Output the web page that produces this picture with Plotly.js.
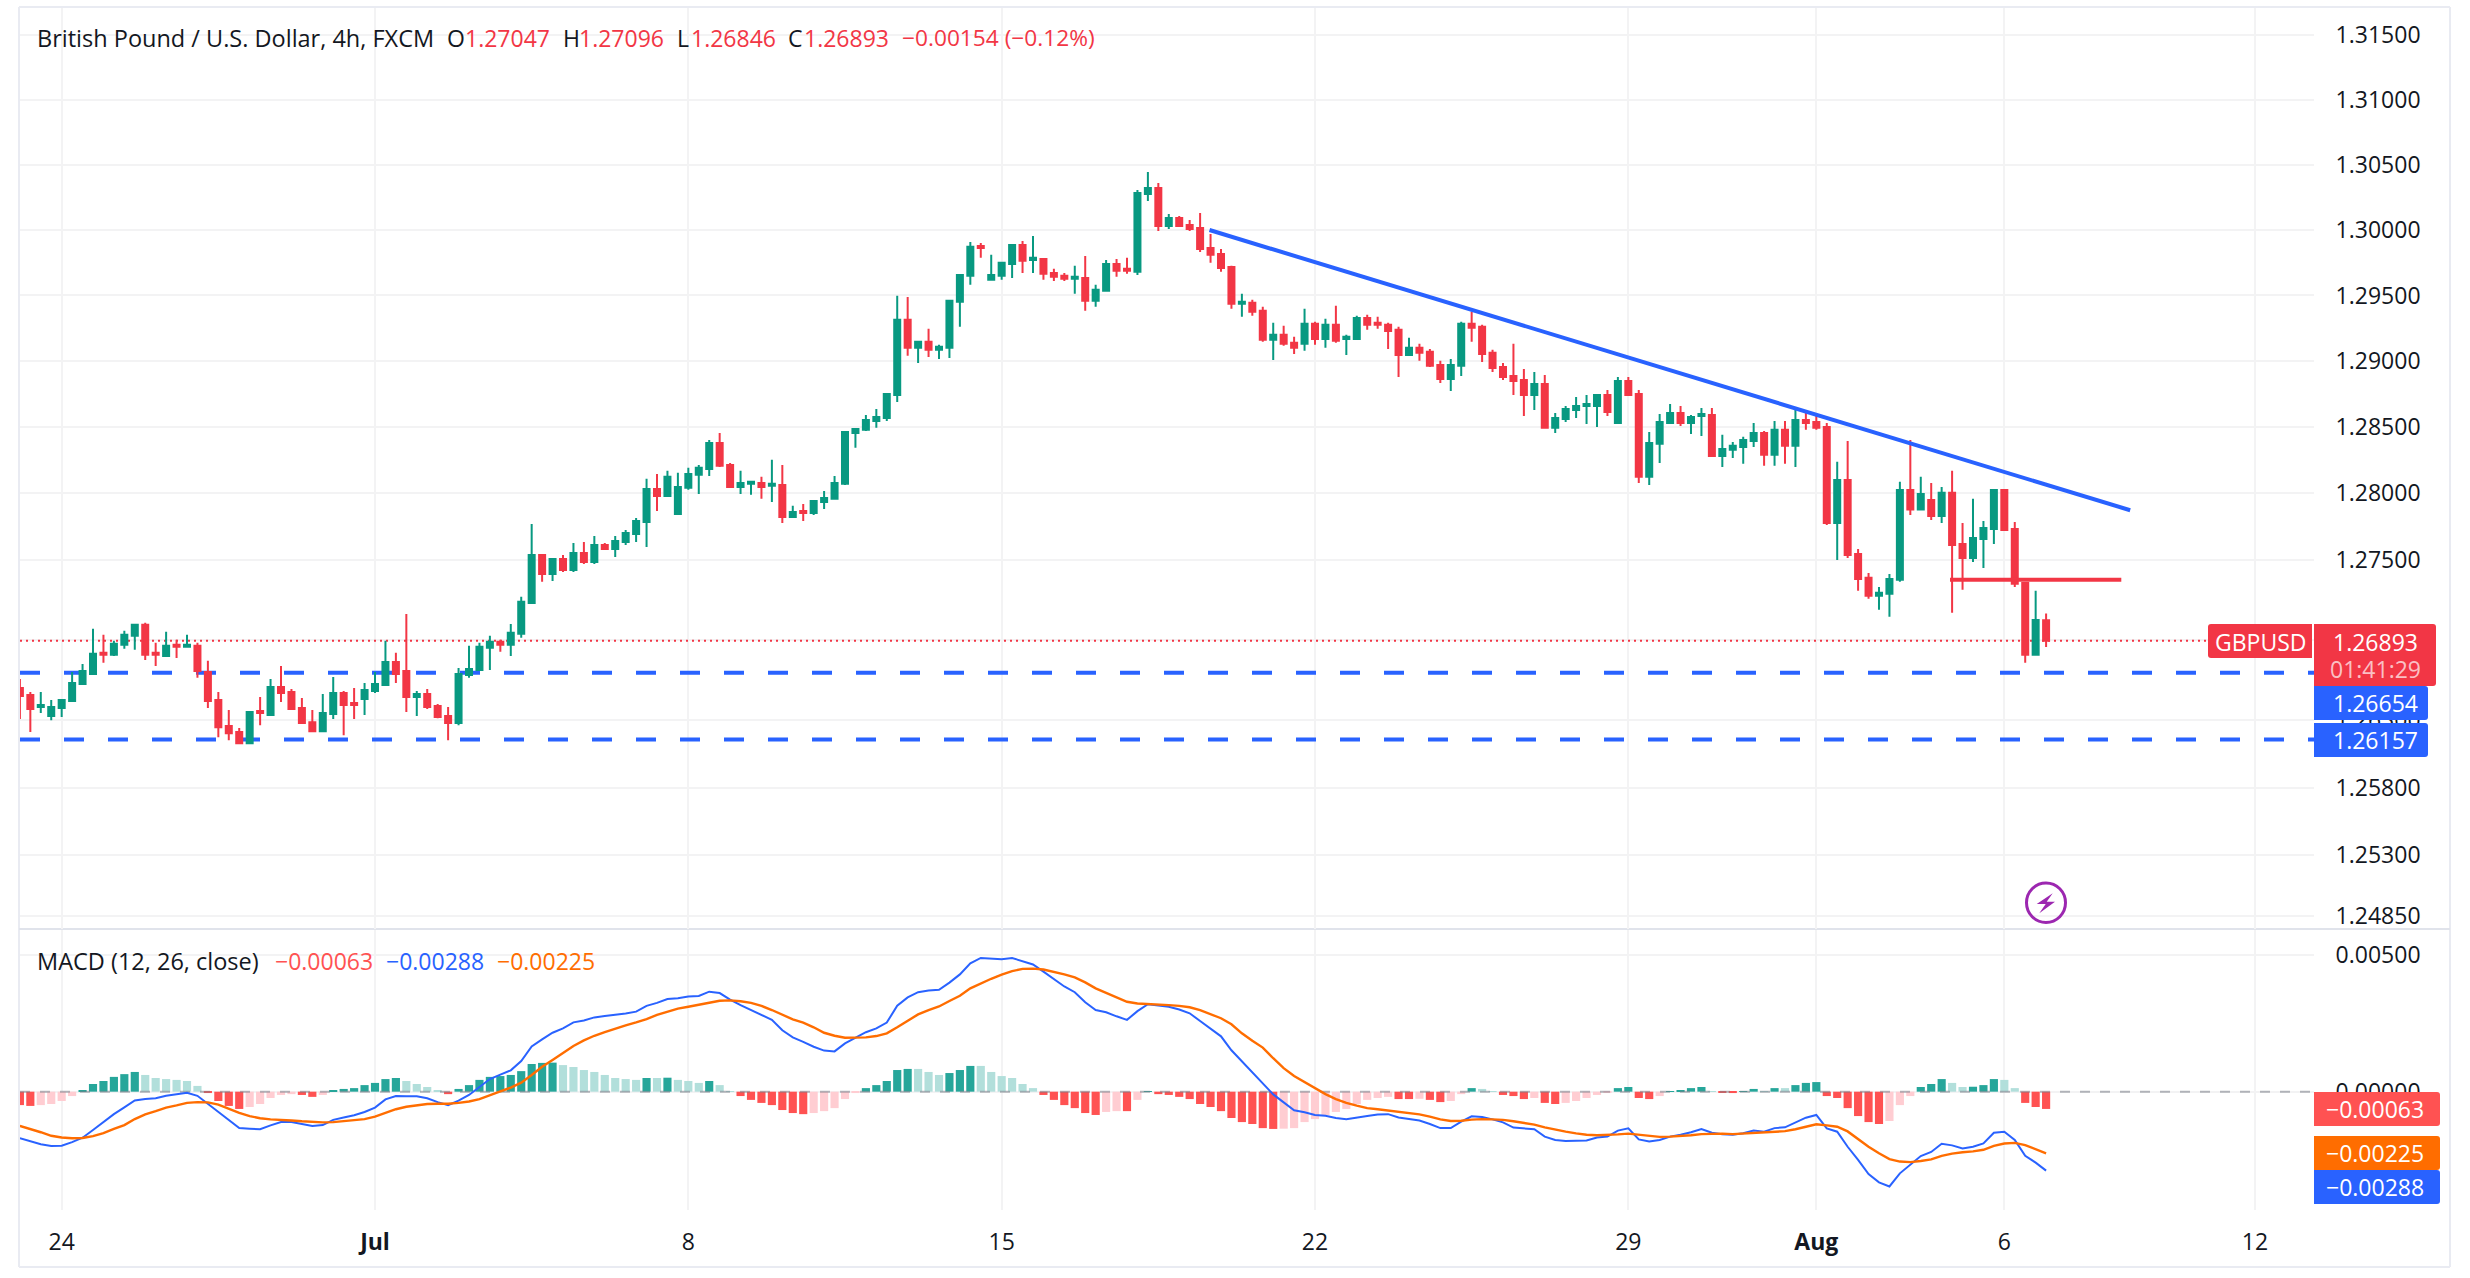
<!DOCTYPE html>
<html>
<head>
<meta charset="utf-8">
<title>GBPUSD 4h</title>
<script src="https://cdn.plot.ly/plotly-3.0.1.min.js"></script>
<style>html,body{margin:0;padding:0;background:#fff}#chart{width:2470px;height:1278px}</style>
</head>
<body>
<div id="chart"></div>
<script>
const opens = [
1.26541,1.26488,1.26399,1.26331,1.26391,1.26444,1.26571,1.26645,1.26803,1.26788,
1.26863,1.26930,1.27012,1.26803,1.26780,1.26863,1.26848,1.26855,1.26660,1.26451,
1.26257,1.26212,1.26130,1.26369,1.26339,1.26548,1.26511,1.26391,1.26286,1.26219,
1.26346,1.26503,1.26429,1.26459,1.26518,1.26563,1.26735,1.26668,1.26473,1.26496,
1.26406,1.26331,1.26279,1.26638,1.26675,1.26840,1.26885,1.26863,1.26945,1.27176,
1.27536,1.27393,1.27506,1.27423,1.27551,1.27483,1.27610,1.27580,1.27633,1.27693,
1.27784,1.28033,1.27980,1.27844,1.28041,1.28139,1.28184,1.28380,1.28214,1.28048,
1.28071,1.28078,1.28056,1.28063,1.27822,1.27867,1.27852,1.27935,1.27958,1.28071,
1.28456,1.28479,1.28546,1.28569,1.28743,1.29314,1.29101,1.29147,1.29086,1.29101,
1.29451,1.29650,1.29878,1.29619,1.29650,1.29741,1.29886,1.29771,1.29779,1.29672,
1.29650,1.29627,1.29634,1.29459,1.29535,1.29741,1.29703,1.29680,1.30276,1.30322,
1.30031,1.30092,1.30038,1.30015,1.29863,1.29817,1.29718,1.29436,1.29444,1.29383,
1.29162,1.29200,1.29139,1.29132,1.29284,1.29169,1.29276,1.29169,1.29169,1.29329,
1.29291,1.29276,1.29238,1.29047,1.29101,1.29071,1.28971,1.28865,1.28964,1.29284,
1.29261,1.29063,1.28956,1.28888,1.28857,1.28743,1.28827,1.28494,1.28561,1.28630,
1.28660,1.28660,1.28743,1.28531,1.28849,1.28750,1.28124,1.28373,1.28531,1.28607,
1.28531,1.28584,1.28592,1.28282,1.28328,1.28350,1.28395,1.28456,1.28290,1.28479,
1.28358,1.28554,1.28539,1.28501,1.27776,1.28101,1.27543,1.27364,1.27229,1.27244,
1.27349,1.28024,1.27877,1.27950,1.27829,1.28003,1.27618,1.27513,1.27655,1.27731,
1.28024,1.27731,1.27326,1.26788,1.27047];
const highs = [
1.26608,1.26511,1.26511,1.26451,1.26451,1.26660,1.26720,1.26982,1.26937,1.26893,
1.26967,1.27019,1.27027,1.26878,1.26960,1.26900,1.26937,1.26878,1.26743,1.26511,
1.26376,1.26242,1.26361,1.26473,1.26608,1.26705,1.26533,1.26466,1.26376,1.26496,
1.26623,1.26518,1.26541,1.26578,1.26660,1.26893,1.26803,1.27094,1.26518,1.26533,
1.26421,1.26399,1.26690,1.26855,1.26878,1.26930,1.26900,1.27019,1.27222,1.27769,
1.27536,1.27513,1.27536,1.27625,1.27633,1.27678,1.27625,1.27678,1.27723,1.27814,
1.28109,1.28146,1.28169,1.28154,1.28192,1.28214,1.28403,1.28456,1.28229,1.28169,
1.28093,1.28124,1.28252,1.28214,1.27905,1.27920,1.27950,1.28018,1.28131,1.28471,
1.28486,1.28592,1.28637,1.28750,1.29497,1.29489,1.29154,1.29246,1.29124,1.29459,
1.29657,1.29909,1.29901,1.29810,1.29749,1.29893,1.29916,1.29954,1.29779,1.29703,
1.29672,1.29726,1.29802,1.29581,1.29771,1.29779,1.29787,1.30307,1.30445,1.30360,
1.30123,1.30107,1.30077,1.30130,1.29970,1.29855,1.29726,1.29513,1.29467,1.29413,
1.29291,1.29269,1.29185,1.29398,1.29299,1.29322,1.29421,1.29200,1.29345,1.29352,
1.29337,1.29291,1.29261,1.29177,1.29132,1.29093,1.29002,1.29017,1.29299,1.29375,
1.29276,1.29086,1.28986,1.29132,1.28941,1.28918,1.28895,1.28607,1.28660,1.28728,
1.28743,1.28750,1.28781,1.28880,1.28880,1.28781,1.28463,1.28599,1.28675,1.28660,
1.28592,1.28645,1.28645,1.28441,1.28388,1.28426,1.28531,1.28471,1.28546,1.28546,
1.28652,1.28622,1.28607,1.28531,1.28237,1.28395,1.27580,1.27401,1.27296,1.27393,
1.28086,1.28403,1.28124,1.28078,1.28048,1.28169,1.27776,1.27958,1.27791,1.28024,
1.28032,1.27784,1.27326,1.27267,1.27096];
const lows = [
1.26309,1.26212,1.26354,1.26301,1.26324,1.26444,1.26571,1.26645,1.26728,1.26780,
1.26833,1.26825,1.26750,1.26705,1.26773,1.26765,1.26840,1.26616,1.26391,1.26174,
1.26152,1.26122,1.26130,1.26264,1.26339,1.26436,1.26376,1.26279,1.26212,1.26219,
1.26309,1.26189,1.26309,1.26339,1.26503,1.26563,1.26578,1.26361,1.26331,1.26384,
1.26316,1.26152,1.26264,1.26616,1.26668,1.26675,1.26810,1.26780,1.26915,1.27176,
1.27334,1.27341,1.27408,1.27408,1.27468,1.27468,1.27573,1.27521,1.27610,1.27633,
1.27595,1.27867,1.27980,1.27844,1.28026,1.27995,1.28131,1.28199,1.28048,1.27995,
1.27988,1.27958,1.27935,1.27776,1.27814,1.27791,1.27837,1.27882,1.27958,1.28063,
1.28343,1.28471,1.28494,1.28546,1.28690,1.29040,1.28986,1.29032,1.29017,1.29024,
1.29261,1.29581,1.29787,1.29619,1.29619,1.29634,1.29672,1.29672,1.29619,1.29611,
1.29611,1.29513,1.29383,1.29413,1.29528,1.29642,1.29665,1.29657,1.30222,1.29992,
1.30008,1.30023,1.29992,1.29832,1.29749,1.29680,1.29398,1.29337,1.29345,1.29147,
1.29009,1.29116,1.29055,1.29078,1.29124,1.29101,1.29139,1.29047,1.29169,1.29238,
1.29246,1.29093,1.28880,1.29047,1.29002,1.28956,1.28834,1.28773,1.28888,1.29147,
1.28994,1.28918,1.28857,1.28743,1.28584,1.28630,1.28494,1.28456,1.28539,1.28569,
1.28524,1.28501,1.28584,1.28531,1.28735,1.28078,1.28063,1.28229,1.28531,1.28509,
1.28448,1.28433,1.28282,1.28199,1.28267,1.28222,1.28350,1.28207,1.28207,1.28222,
1.28199,1.28479,1.28479,1.27761,1.27498,1.27513,1.27267,1.27207,1.27124,1.27072,
1.27334,1.27837,1.27877,1.27799,1.27776,1.27102,1.27274,1.27483,1.27438,1.27618,
1.27723,1.27296,1.26728,1.26788,1.26846];
const closes = [
1.26481,1.26384,1.26414,1.26399,1.26451,1.26578,1.26668,1.26795,1.26788,1.26870,
1.26937,1.27012,1.26788,1.26788,1.26855,1.26848,1.26863,1.26668,1.26444,1.26249,
1.26204,1.26130,1.26361,1.26354,1.26548,1.26503,1.26384,1.26279,1.26219,1.26354,
1.26503,1.26414,1.26414,1.26526,1.26571,1.26735,1.26645,1.26473,1.26496,1.26399,
1.26324,1.26279,1.26645,1.26683,1.26848,1.26885,1.26863,1.26952,1.27184,1.27536,
1.27393,1.27506,1.27423,1.27551,1.27483,1.27610,1.27580,1.27640,1.27701,1.27791,
1.28033,1.27980,1.28124,1.28048,1.28146,1.28192,1.28380,1.28207,1.28048,1.28078,
1.28086,1.28048,1.28071,1.27822,1.27859,1.27852,1.27942,1.27965,1.28078,1.28463,
1.28486,1.28554,1.28577,1.28750,1.29314,1.29101,1.29147,1.29086,1.29109,1.29459,
1.29657,1.29871,1.29863,1.29657,1.29749,1.29886,1.29764,1.29787,1.29665,1.29642,
1.29627,1.29642,1.29459,1.29543,1.29741,1.29688,1.29688,1.30284,1.30322,1.30031,
1.30092,1.30031,1.30008,1.29855,1.29810,1.29710,1.29436,1.29451,1.29375,1.29162,
1.29200,1.29132,1.29101,1.29284,1.29169,1.29276,1.29154,1.29185,1.29329,1.29276,
1.29276,1.29230,1.29047,1.29101,1.29063,1.28964,1.28865,1.28971,1.29284,1.29253,
1.29055,1.28948,1.28880,1.28849,1.28743,1.28827,1.28494,1.28569,1.28637,1.28660,
1.28675,1.28743,1.28614,1.28849,1.28743,1.28124,1.28380,1.28539,1.28607,1.28531,
1.28577,1.28599,1.28282,1.28335,1.28358,1.28403,1.28456,1.28290,1.28479,1.28358,
1.28554,1.28531,1.28494,1.27776,1.28101,1.27536,1.27356,1.27229,1.27252,1.27356,
1.28024,1.27877,1.27995,1.27829,1.28003,1.27610,1.27513,1.27663,1.27739,1.28024,
1.27723,1.27319,1.26788,1.27049,1.26893];
const histogram = [
-.00049,-.00052,-.00049,-.00045,-.00034,
-.00016,.00006,.00028,.00039,.00054,
.00064,.00072,.00061,.0005,.00046,
.00043,.00039,.00021,-.00005,-.00034,
-.00052,-.00063,-.00056,-.00045,-.00023,
-.00012,-.00009,-.00012,-.00019,-.00012,
.00006,.0001,.00013,.00024,.00032,
.00046,.0005,.00039,.00028,.00017,
.00006,-.00009,.0001,.00024,.00043,
.00054,.00057,.00061,.00075,.00101,
.00105,.00106,.00097,.0009,.00079,
.00072,.00061,.0005,.00046,.00043,
.0005,.0005,.00051,.00043,.00039,
.00032,.00039,.00024,.00002,-.00016,
-.0003,-.00041,-.00049,-.00067,-.00078,
-.00082,-.00078,-.00071,-.0006,-.00027,
-.00005,.00013,.00024,.00039,.00079,
.00083,.00083,.00072,.00061,.00068,
.00079,.00094,.00094,.00072,.00057,
.0005,.00028,.00013,-.00012,-.0003,
-.00049,-.0006,-.00078,-.00085,-.00074,
-.00071,-.00071,-.0003,.00002,-.00009,
-.00012,-.00019,-.00027,-.00045,-.00056,
-.00071,-.00096,-.00111,-.00118,-.00133,
-.00136,-.00135,-.00133,-.00111,-.001,
-.00085,-.00074,-.00063,-.00045,-.0003,
-.00023,-.00019,-.00027,-.00027,-.00026,
-.0003,-.00038,-.00034,-.00009,.00013,
.0001,.00002,-.00012,-.00016,-.00027,
-.00023,-.00041,-.00045,-.00041,-.00034,
-.00023,-.00012,-.00005,.00013,.00017,
-.00023,-.00027,-.00016,.00002,.00006,
.00013,.00017,.00002,-.00003,-.00005,
.00002,.0001,.00002,.00013,.00013,
.00024,.00032,.00035,-.00016,-.00023,
-.0006,-.00089,-.00111,-.00118,-.00107,
-.00049,-.00016,.00017,.00028,.00046,
.00032,.00017,.00018,.00024,.00046,
.00043,.00013,-.00041,-.00056,-.00063];
const macdLine = [
-.00170,-.00182,-.00192,-.00198,-.00197,-.00184,-.00168,-.00140,-.00111,-.00082,
-.00057,-.00032,-.00027,-.00024,-.00015,-.00009,-.00004,-.00015,-.00045,-.00074,
-.00103,-.00133,-.00135,-.00137,-.00123,-.00111,-.00111,-.00117,-.00125,-.00122,
-.00103,-.00094,-.00086,-.00074,-.00058,-.00028,-.00016,-.00017,-.00017,-.00024,
-.00038,-.00049,-.00033,-.00012,.00018,.00046,.00062,.00078,.00112,.00165,
.00191,.00215,.00231,.00253,.00260,.00271,.00276,.00280,.00285,.00292,
.00313,.00324,.00338,.00341,.00347,.00349,.00365,.00360,.00336,.00316,
.00298,.00279,.00262,.00224,.00198,
.00182,.00164,.00150,.00147,.00176,.00198,.00217,.00231,.00252,.00314,
.00344,.00363,.00369,.00372,.00398,.00428,.00468,.00488,.00485,.00483,
.00488,.00477,.00464,.00438,.00411,.00384,.00363,.00326,.00298,.00290,
.00275,.00262,.00294,.00319,.00314,.00310,.00300,.00286,.00258,.00230,
.00202,.00151,.00111,.00071,.00030,-.00010,-.00039,-.00068,-.00075,-.00085,
-.00088,-.00096,-.00101,-.00094,-.00089,-.00083,-.00082,-.00094,-.00100,-.00105,
-.00118,-.00133,-.00133,-.00109,-.00090,-.00092,-.00101,-.00112,-.00131,-.00134,
-.00137,-.00164,-.00176,-.00180,-.00180,-.00178,-.00167,
-.00164,-.00142,-.00134,-.00174,-.00182,-.00176,-.00164,-.00157,-.00148,-.00136,
-.00150,-.00155,-.00157,-.00152,-.00142,-.00146,-.00133,-.00130,-.00111,-.00095,
-.00085,-.00134,-.00146,-.00201,-.00249,-.00301,-.00331,-.00346,-.00298,-.00268,
-.00235,-.00220,-.00190,-.00196,-.00207,-.00201,-.00189,-.00150,-.00146,-.00176,
-.00234,-.00259,-.00288];
const signalLine = [
-.00125,-.00136,-.00148,-.00161,-.00167,-.00170,-.00169,-.00162,-.00151,-.00136,
-.00122,-.00100,-.00083,-.00071,-.00058,-.00050,-.00041,-.00038,-.00039,-.00047,
-.00062,-.00077,-.00089,-.00097,-.00101,-.00102,-.00105,-.00108,-.00111,-.00112,
-.00111,-.00108,-.00105,-.00100,-.00091,-.00078,-.00064,-.00055,-.00049,-.00045,
-.00044,-.00044,-.00041,-.00036,-.00027,-.00012,.00001,.00015,.00033,.00061,
.00091,.00116,.00142,.00167,.00187,.00204,.00217,.00230,.00242,.00253,
.00265,.00280,.00292,.00303,.00310,.00318,.00326,.00332,.00333,.00330,
.00324,.00313,.00298,.00282,.00264,
.00252,.00235,.00215,.00204,.00197,.00197,.00198,.00203,.00213,.00235,
.00260,.00282,.00298,.00311,.00331,.00350,.00377,.00395,.00412,.00427,
.00440,.00448,.00449,.00446,.00438,.00428,.00417,.00399,.00377,.00360,
.00343,.00328,.00322,.00320,.00320,.00316,.00313,.00308,.00298,.00283,
.00268,.00246,.00213,.00186,.00161,.00122,.00086,.00057,.00035,.00015,
-.00009,-.00027,-.00041,-.00051,-.00060,-.00064,-.00069,-.00073,-.00077,-.00083,
-.00091,-.00101,-.00107,-.00106,-.00102,-.00100,-.00101,-.00103,-.00108,-.00113,
-.00120,-.00130,-.00139,-.00146,-.00152,-.00157,-.00159,
-.00158,-.00156,-.00153,-.00157,-.00163,-.00165,-.00164,-.00162,-.00159,-.00155,
-.00153,-.00153,-.00155,-.00153,-.00151,-.00150,-.00146,-.00144,-.00137,-.00128,
-.00119,-.00123,-.00128,-.00145,-.00174,-.00201,-.00225,-.00246,-.00255,-.00257,
-.00253,-.00247,-.00234,-.00226,-.00221,-.00218,-.00212,-.00198,-.00189,-.00187,
-.00195,-.00209,-.00225];

const timeTickBars = [0,30,60,90,120,150,168,186,210];
const timeTickLabels = ['24','<b>Jul</b>','8','15','22','29','<b>Aug</b>','6','12'];
const priceTicks = [1.315,1.31,1.305,1.30,1.295,1.29,1.285,1.28,1.275,1.269,1.263,1.258,1.253,1.2485];
const macdTicks = [0.005,0];
const firstBar = -4;
const bars = opens.map((_,i)=>i+firstBar);

const lastPrice = 1.26893, support1 = 1.26654, support2 = 1.26157;
const trendBars = [109.9,198.05], trendPrices = [1.30,1.27872];
const pivotBars = [180.8,197.2], pivotPrices = [1.27349,1.27349];
const viewBars = [-3.99,215.65];
const priceRange = [Math.log10(1.24757),Math.log10(1.31711)];
const macdRange = [-0.004318,0.0059];

const GREEN='#089981',RED='#F23645',BLUE='#2962FF',ORANGE='#FF6D00',GRID='#f3f3f4',BORDER='#e9ebf2',TEXT='#131722';
const FONT='"Open Sans", sans-serif';
const W=2470,H=1278;
const px=x=>x/W, py=y=>1-y/H;

const histColors = histogram.map((v,i)=>{
  const p = i? histogram[i-1] : v+1;
  if(v>=0) return p<v ? '#26A69A' : '#B2DFDB';
  return p<v ? '#FFCDD2' : '#FF5252';
});

const hline=(yv,color,dash,width,xs)=>({type:'scatter',mode:'lines',x:xs||viewBars,y:[yv,yv],xaxis:'x',yaxis:'y',
  line:{color,dash,width},hoverinfo:'skip',showlegend:false});

const traces = [
  hline(lastPrice,RED,'2px,4px',2,[viewBars[0],205.5]),
  hline(support1,BLUE,'20px,24px',4),
  hline(support2,BLUE,'20px,24px',4),
  {type:'candlestick',x:bars,open:opens,high:highs,low:lows,close:closes,xaxis:'x',yaxis:'y3',
    whiskerwidth:0,showlegend:false,
    increasing:{line:{color:GREEN,width:2},fillcolor:GREEN},
    decreasing:{line:{color:RED,width:2},fillcolor:RED}},
  {type:'scatter',mode:'lines',x:trendBars,y:trendPrices,xaxis:'x',yaxis:'y3',line:{color:BLUE,width:4},showlegend:false,hoverinfo:'skip'},
  {type:'scatter',mode:'lines',x:pivotBars,y:pivotPrices,xaxis:'x',yaxis:'y3',line:{color:RED,width:4},showlegend:false,hoverinfo:'skip'},
  {type:'bar',x:bars,y:histogram,xaxis:'x',yaxis:'y2',width:0.78,marker:{color:histColors,line:{width:0}},showlegend:false},
  {type:'scatter',mode:'lines',x:viewBars,y:[0,0],xaxis:'x',yaxis:'y2',line:{color:'rgba(120,123,134,0.55)',dash:'10px,10px',width:2},showlegend:false,hoverinfo:'skip'},
  {type:'scatter',mode:'lines',x:bars,y:macdLine,xaxis:'x',yaxis:'y2',line:{color:BLUE,width:2},showlegend:false},
  {type:'scatter',mode:'lines',x:bars,y:signalLine,xaxis:'x',yaxis:'y2',line:{color:ORANGE,width:2.4},showlegend:false}
];

function roundRect(x0,y0,x1,y1,rl,rr){
  const X=px,Y=py;
  return `M${X(x0+rl)},${Y(y0)} L${X(x1-rr)},${Y(y0)} Q${X(x1)},${Y(y0)} ${X(x1)},${Y(y0+rr)} L${X(x1)},${Y(y1-rr)} Q${X(x1)},${Y(y1)} ${X(x1-rr)},${Y(y1)} L${X(x0+rl)},${Y(y1)} Q${X(x0)},${Y(y1)} ${X(x0)},${Y(y1-rl)} L${X(x0)},${Y(y0+rl)} Q${X(x0)},${Y(y0)} ${X(x0+rl)},${Y(y0)} Z`;
}
const box=(x0,y0,x1,y1,color,rl,rr)=>({type:'path',xref:'paper',yref:'paper',path:roundRect(x0,y0,x1,y1,rl,rr),fillcolor:color,line:{width:0},layer:'above'});
const rule=(x0,y0,x1,y1,color,w)=>({type:'line',xref:'paper',yref:'paper',x0:px(x0),y0:py(y0),x1:px(x1),y1:py(y1),line:{color,width:w},layer:'below'});

const bolt=[[2052.7,893.3],[2036.7,904],[2045.7,904],[2039.3,913.3],[2055,901.7],[2046.7,901.7]];
const shapes=[
  rule(19,7,2450,7,BORDER,2), rule(19,7,19,1267,BORDER,2), rule(2450,7,2450,1267,BORDER,2), rule(19,1267,2450,1267,BORDER,2),
  rule(19,929,2450,929,'#e0e3eb',2),
  box(2208,624,2312,658,RED,3,0),
  box(2314,624,2436,686,RED,0,3),
  box(2314,686,2428,720,BLUE,0,3),
  box(2314,723,2428,757,BLUE,0,3),
  box(2314,1092,2440,1126,'#FF5252',0,3),
  box(2314,1136,2440,1170,ORANGE,0,3),
  box(2314,1170,2440,1204,BLUE,0,3),
  {type:'circle',xref:'paper',yref:'paper',x0:px(2026.5),x1:px(2065.5),y0:py(883),y1:py(922.5),line:{color:'#9C27B0',width:3},fillcolor:'rgba(255,255,255,0)',layer:'above'},
  {type:'path',xref:'paper',yref:'paper',path:'M'+bolt.map(p=>px(p[0])+','+py(p[1])).join(' L')+' Z',fillcolor:'#9C27B0',line:{width:0},layer:'above'}
];

const SIZE=23;
const note=(x,y,text,color,anchor,size)=>({xref:'paper',yref:'paper',x:px(x),y:py(y),text,showarrow:false,xanchor:anchor||'left',yanchor:'middle',
  font:{family:FONT,size:size||SIZE,color:color||TEXT},borderpad:0});
const annotations=[
  note(36,38,'British Pound / U.S. Dollar, 4h, FXCM',TEXT,'left',23.5),
  note(446,38,'O'),note(464,38,'1.27047',RED),
  note(562,38,'H'),note(578,38,'1.27096',RED),
  note(676,38,'L'),note(690,38,'1.26846',RED),
  note(787,38,'C'),note(803,38,'1.26893',RED),
  note(901,38,'−0.00154 (−0.12%)',RED,'left',22.7),
  note(36,961,'MACD (12, 26, close)',TEXT,'left',23.5),
  note(274,961,'−0.00063','#FF5252'),
  note(385,961,'−0.00288',BLUE),
  note(496,961,'−0.00225',ORANGE),
  note(2260,641.5,'GBPUSD','#fff','center'),
  note(2375,641.5,'1.26893','#fff','center'),
  note(2375,669,'01:41:29','rgba(255,255,255,0.7)','center'),
  note(2375,703,'1.26654','#fff','center'),
  note(2375,740,'1.26157','#fff','center'),
  note(2375,1109,'−0.00063','#fff','center'),
  note(2375,1153,'−0.00225','#fff','center'),
  note(2375,1187,'−0.00288','#fff','center')
];

const priceAxis={type:'log',domain:[py(929),py(8)],range:priceRange,side:'right',anchor:'x',
  tickmode:'array',tickvals:priceTicks,ticktext:priceTicks.map(v=>v.toFixed(5)),
  showgrid:true,gridcolor:GRID,gridwidth:2,zeroline:false,showline:false,
  ticks:'outside',ticklen:16,tickcolor:'rgba(0,0,0,0)',tickfont:{family:FONT,size:SIZE,color:TEXT}};

const layout={
  width:W,height:H,margin:{l:0,r:0,t:0,b:0},paper_bgcolor:'#fff',plot_bgcolor:'#fff',
  showlegend:false,boxgap:0.425,boxgroupgap:0,bargap:0.2,hovermode:false,
  xaxis:{type:'linear',domain:[px(20),px(2314)],range:viewBars,anchor:'y2',rangeslider:{visible:false},
    tickmode:'array',tickvals:timeTickBars,ticktext:timeTickLabels,showgrid:true,gridcolor:GRID,gridwidth:2,zeroline:false,showline:false,
    ticks:'outside',ticklen:11,tickcolor:'rgba(0,0,0,0)',tickfont:{family:FONT,size:SIZE,color:TEXT}},
  yaxis:priceAxis,
  yaxis3:Object.assign({},priceAxis,{overlaying:'y',showgrid:false,showticklabels:false,ticks:''}),
  yaxis2:{domain:[py(1210),py(930)],range:macdRange,side:'right',anchor:'x',tickmode:'array',tickvals:macdTicks,
    ticktext:macdTicks.map(v=>v.toFixed(5)),showgrid:true,gridcolor:GRID,gridwidth:2,zeroline:false,showline:false,
    ticks:'outside',ticklen:16,tickcolor:'rgba(0,0,0,0)',tickfont:{family:FONT,size:SIZE,color:TEXT}},
  shapes,annotations
};
delete layout.yaxis3.domain;
Plotly.newPlot('chart',traces,layout,{displayModeBar:false,responsive:false});
</script>
</body>
</html>
